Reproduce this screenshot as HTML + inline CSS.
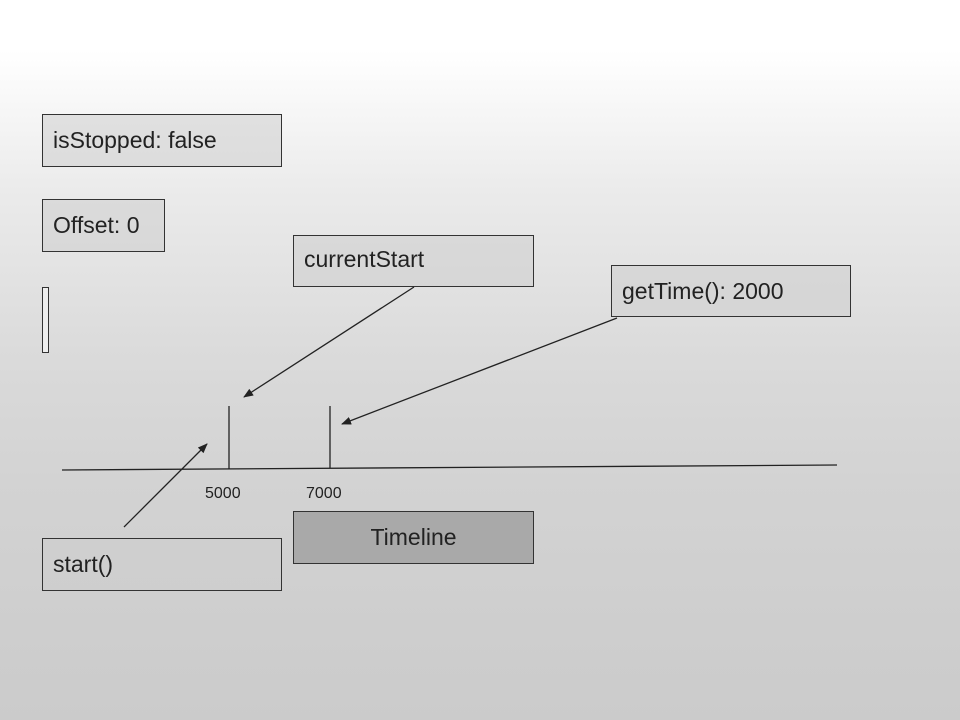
<!DOCTYPE html>
<html><head><meta charset="utf-8"><style>
html,body{margin:0;padding:0}
body{width:960px;height:720px;position:relative;overflow:hidden;font-family:"Liberation Sans",sans-serif;
background:linear-gradient(to bottom,#fff 0px,#fff 50px,#ebebeb 190px,#dadada 360px,#d3d3d3 480px,#cbcbcb 720px);}
.b{position:absolute;box-sizing:border-box;border:1px solid #333;background:rgba(205,205,205,0.55);font-size:23px;color:#222;padding-left:10px;display:flex;align-items:center}
</style></head><body>
<div class="b" style="left:42px;top:114px;width:240px;height:53px">isStopped: false</div>
<div class="b" style="left:42px;top:199px;width:123px;height:53px">Offset: 0</div>
<div class="b" style="left:293px;top:235px;width:241px;height:52px;padding-bottom:4px">currentStart</div>
<div class="b" style="left:611px;top:265px;width:240px;height:52px">getTime(): 2000</div>
<div class="b" style="left:293px;top:511px;width:241px;height:53px;background:#a9a9a9;justify-content:center;padding:0 0 0 0">Timeline</div>
<div class="b" style="left:42px;top:538px;width:240px;height:53px">start()</div>
<div style="position:absolute;left:42px;top:287px;width:5px;height:64px;border:1px solid #333;background:#eee"></div>
<svg width="960" height="720" style="position:absolute;left:0;top:0">
<defs><marker id="a" markerWidth="10" markerHeight="8" refX="9" refY="4" orient="auto" markerUnits="userSpaceOnUse"><path d="M0,0 L10,4 L0,8 z" fill="#222"/></marker></defs>
<g stroke="#222" stroke-width="1.3" fill="none">
<line x1="62" y1="470" x2="837" y2="465"/>
<line x1="229" y1="406" x2="229" y2="469"/>
<line x1="330" y1="406" x2="330" y2="468"/>
<line x1="414" y1="287" x2="244" y2="397" marker-end="url(#a)"/>
<line x1="617" y1="318" x2="342" y2="424" marker-end="url(#a)"/>
<line x1="124" y1="527" x2="207" y2="444" marker-end="url(#a)"/>
</g>
<g font-family="Liberation Sans, sans-serif" font-size="16" fill="#222">
<text x="205" y="498">5000</text>
<text x="306" y="498">7000</text>
</g>
</svg>
</body></html>
